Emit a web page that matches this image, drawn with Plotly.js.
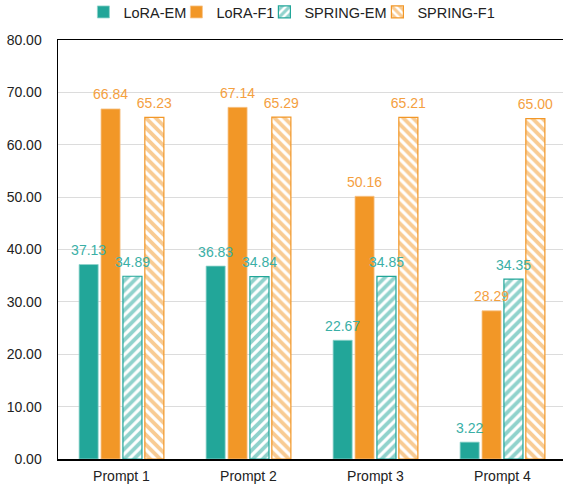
<!DOCTYPE html>
<html>
<head>
<meta charset="utf-8">
<script src="https://cdn.plot.ly/plotly-3.0.1.min.js"></script>
<style>html,body{margin:0;padding:0;overflow:hidden;background:#fff;}#chart{width:566px;height:488px;}</style>
</head>
<body>
<div id="chart"></div>
<script>
const categories = ["Prompt 1", "Prompt 2", "Prompt 3", "Prompt 4"];
const seriesNames = ["LoRA-EM", "LoRA-F1", "SPRING-EM", "SPRING-F1"];
const loraEM = [37.13, 36.83, 22.67, 3.22];
const loraF1 = [66.84, 67.14, 50.16, 28.29];
const springEM = [34.89, 34.84, 34.85, 34.35];
const springF1 = [65.23, 65.29, 65.21, 65.00];
const yTicks = [0, 10, 20, 30, 40, 50, 60, 70, 80];

const TEAL = "#22A699";
const ORANGE = "#F29727";
const TEAL_TXT = "#3AAFA6";
const ORANGE_TXT = "#F4A03F";
const FONT = "Liberation Sans, Arial, sans-serif";

function fmt(arr) { return arr.map(v => v.toFixed(2)); }

function solid(name, y, color, edge, og, lw) {
  return {
    type: "bar", name: name, x: categories, y: y, offsetgroup: og, legendwidth: lw,
    marker: {color: color, line: {color: edge, width: 0.8}},
    hoverinfo: "none"
  };
}
function hatched(name, y, color, shape, og, lw) {
  return {
    type: "bar", name: name, x: categories, y: y, offsetgroup: og, legendwidth: lw,
    marker: {color: "#ffffff", line: {color: color, width: 1.2},
      pattern: {shape: shape, fgcolor: color, bgcolor: "#ffffff", size: 7, solidity: 0.55, fillmode: "overlay"}},
    hoverinfo: "none"
  };
}
function labels(y, txt, og) {
  return {
    type: "scatter", mode: "markers+text", x: categories, y: y, offsetgroup: og,
    marker: {size: 8, color: "rgba(0,0,0,0)"},
    text: fmt(y), textposition: "top center", cliponaxis: false, showlegend: false,
    textfont: {family: FONT, size: 14, color: txt}, hoverinfo: "none"
  };
}

const data = [
  solid(seriesNames[0], loraEM, TEAL, "#8fd3cc", "a", 48),
  solid(seriesNames[1], loraF1, ORANGE, "#f7c48a", "b", 43),
  hatched(seriesNames[2], springEM, TEAL, "/", "c", 68),
  hatched(seriesNames[3], springF1, ORANGE, "\\", "d", 74),
  labels(loraEM, TEAL_TXT, "a"),
  labels(loraF1, ORANGE_TXT, "b"),
  labels(springEM, TEAL_TXT, "c"),
  labels(springF1, ORANGE_TXT, "d")
];

const layout = {
  width: 566, height: 488,
  margin: {l: 58, r: 0, t: 40, b: 29, pad: 0, autoexpand: false},
  paper_bgcolor: "#ffffff", plot_bgcolor: "#ffffff",
  font: {family: FONT, size: 14, color: "#222"},
  barmode: "group", bargap: 0.31, bargroupgap: 0.13,
  scattermode: "group", scattergap: 0.31,
  showlegend: true,
  legend: {orientation: "h", x: 0.05, xanchor: "left", y: 1.105, yanchor: "top",
    font: {size: 14.5, color: "#222"}, itemwidth: 30, traceorder: "normal"},
  xaxis: {
    type: "category", showline: true, linecolor: "#000", linewidth: 1.5, mirror: true,
    ticks: "", showgrid: false, tickfont: {size: 14, color: "#222"}, ticklabelstandoff: 4,
    fixedrange: true, automargin: false
  },
  yaxis: {
    range: [0, 80], tickvals: yTicks, ticktext: yTicks.map(v => v.toFixed(2)),
    showline: true, linecolor: "#000", linewidth: 1.5, mirror: true,
    showgrid: true, gridcolor: "#dcdcdc", gridwidth: 1, zeroline: false,
    ticks: "", tickfont: {size: 14, color: "#222"}, ticklabelstandoff: 12,
    fixedrange: true, automargin: false
  }
};

Plotly.newPlot("chart", data, layout, {displayModeBar: false, staticPlot: true});
</script>
</body>
</html>
